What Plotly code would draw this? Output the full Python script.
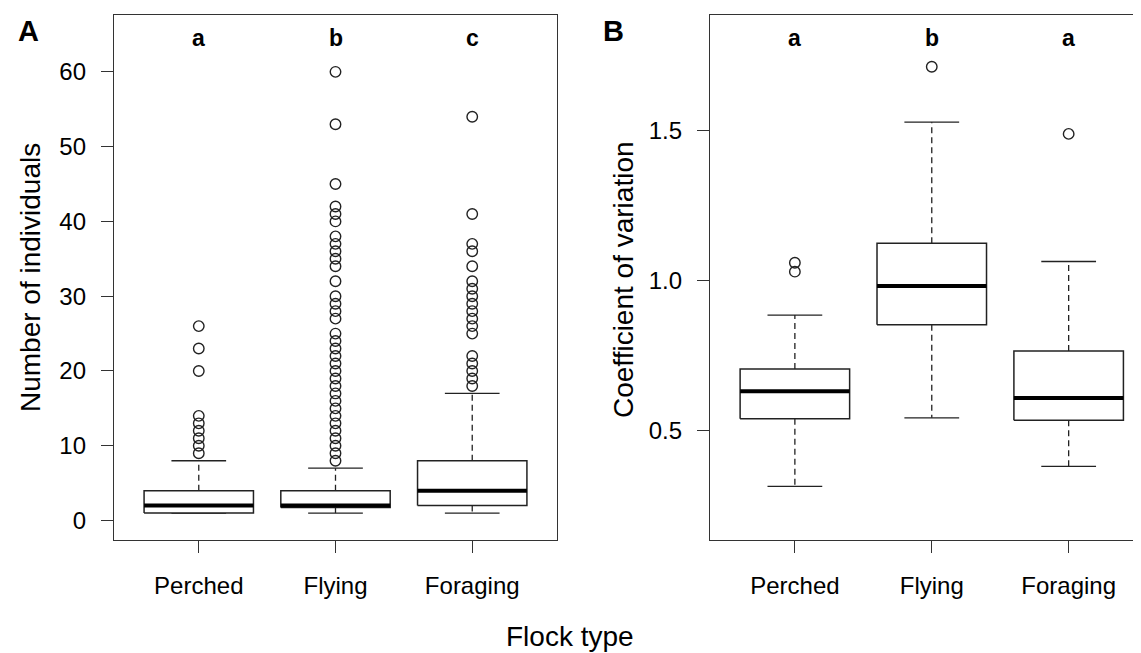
import plotly.graph_objects as go

# ---------------- data ----------------
categories = ["Perched", "Flying", "Foraging"]
positions = [1, 2, 3]

# Panel A: number of individuals
a_q1 = [1, 1.75, 2]
a_median = [2, 2, 4]
a_q3 = [4, 4, 8]
a_low = [1, 1, 1]
a_high = [8, 7, 17]
a_out_perched = [9, 10, 11, 12, 13, 14, 20, 23, 26]
a_out_flying = [8, 9, 10, 11, 12, 13, 14, 15, 16, 17, 18, 19, 20, 21, 22, 23, 24, 25,
                27, 28, 29, 30, 32, 34, 35, 36, 37, 38, 40, 41, 42, 45, 53, 60]
a_out_foraging = [18, 19, 20, 21, 22, 25, 26, 27, 28, 29, 30, 31, 32, 34, 36, 37, 41, 54]
a_letters = ["a", "b", "c"]
a_yticks = [0, 10, 20, 30, 40, 50, 60]

# Panel B: coefficient of variation
b_q1 = [0.539, 0.853, 0.534]
b_median = [0.631, 0.982, 0.608]
b_q3 = [0.705, 1.125, 0.765]
b_low = [0.313, 0.542, 0.380]
b_high = [0.885, 1.529, 1.064]
b_out_perched = [1.030, 1.060]
b_out_flying = [1.714]
b_out_foraging = [1.490]
b_letters = ["a", "b", "a"]
b_yticks = [0.5, 1.0, 1.5]
b_yticktext = ["0.5", "1.0", "1.5"]

# ---------------- layout helpers ----------------
PAGE_OFF = 8          # default body margin of the html page
W, H = 1125, 645      # figure size
FONT = "Liberation Sans"


def px(x):
    return (x - PAGE_OFF) / W


def py(y):
    return 1 - (y - PAGE_OFF) / H


BOX_HALF = 0.4
STAPLE_HALF = 0.2

fig = go.Figure()


def add_panel(xa, ya, q1, med, q3, low, high, outs):
    bx, by, mx, my, wx, wy, sx, sy = [], [], [], [], [], [], [], []
    for p, a, m, b, lo, hi in zip(positions, q1, med, q3, low, high):
        bx += [p - BOX_HALF, p + BOX_HALF, p + BOX_HALF, p - BOX_HALF, p - BOX_HALF, None]
        by += [a, a, b, b, a, None]
        mx += [p - BOX_HALF, p + BOX_HALF, None]
        my += [m, m, None]
        wx += [p, p, None, p, p, None]
        wy += [b, hi, None, a, lo, None]
        sx += [p - STAPLE_HALF, p + STAPLE_HALF, None, p - STAPLE_HALF, p + STAPLE_HALF, None]
        sy += [hi, hi, None, lo, lo, None]
    common = dict(xaxis=xa, yaxis=ya, showlegend=False, hoverinfo="skip")
    fig.add_trace(go.Scatter(x=wx, y=wy, mode="lines",
                             line=dict(color="#222", width=1.3, dash="6px,4px"), **common))
    fig.add_trace(go.Scatter(x=sx, y=sy, mode="lines",
                             line=dict(color="#222", width=1.3), **common))
    fig.add_trace(go.Scatter(x=bx, y=by, mode="lines", fill="toself", fillcolor="white",
                             line=dict(color="#222", width=1.5), **common))
    fig.add_trace(go.Scatter(x=mx, y=my, mode="lines",
                             line=dict(color="black", width=4), **common))
    for p, vals in zip(positions, outs):
        fig.add_trace(go.Scatter(x=[p] * len(vals), y=vals, mode="markers",
                                 marker=dict(symbol="circle-open", size=10.5,
                                             color="#222", line=dict(width=1.4)),
                                 **common))


add_panel("x", "y", a_q1, a_median, a_q3, a_low, a_high,
          [a_out_perched, a_out_flying, a_out_foraging])
add_panel("x2", "y2", b_q1, b_median, b_q3, b_low, b_high,
          [b_out_perched, b_out_flying, b_out_foraging])

tickfont = dict(family=FONT, size=24, color="black")
axis_common = dict(showgrid=False, zeroline=False, showline=True, linecolor="#333",
                   linewidth=1.3, ticks="outside", ticklen=12, tickwidth=1.3,
                   tickcolor="#333", tickfont=tickfont)

top_y, bot_y = 15, 540
fig.update_layout(
    width=W, height=H,
    margin=dict(l=0, r=0, t=0, b=0),
    paper_bgcolor="white", plot_bgcolor="white",
    xaxis=dict(domain=[px(114), px(557)], range=[0.38, 3.62], tickvals=positions,
               ticktext=categories, mirror=True, ticklabelstandoff=12, **axis_common),
    yaxis=dict(domain=[py(bot_y), py(top_y)], range=[-2.6, 67.6], tickvals=a_yticks,
               mirror=True, ticklabelstandoff=10, **axis_common),
    xaxis2=dict(domain=[px(710), 1.0], range=[0.38, 3.47], tickvals=positions,
                ticktext=categories, mirror=True, anchor="y2", ticklabelstandoff=12,
                **axis_common),
    yaxis2=dict(domain=[py(bot_y), py(top_y)], range=[0.134, 1.887], tickvals=b_yticks,
                ticktext=b_yticktext, mirror=False, anchor="x2", ticklabelstandoff=10,
                **axis_common),
)

annotations = []
for p, t in zip(positions, a_letters):
    annotations.append(dict(x=p, y=64.5, xref="x", yref="y", text="<b>%s</b>" % t,
                            xanchor="center", yanchor="middle", showarrow=False,
                            font=dict(family=FONT, size=23, color="black")))
for p, t in zip(positions, b_letters):
    annotations.append(dict(x=p, y=1.81, xref="x2", yref="y2", text="<b>%s</b>" % t,
                            xanchor="center", yanchor="middle", showarrow=False,
                            font=dict(family=FONT, size=23, color="black")))


def label(x, y, text, size, angle=0):
    return dict(x=px(x), y=py(y), xref="paper", yref="paper", text=text,
                xanchor="center", yanchor="middle", textangle=angle, showarrow=False,
                font=dict(family=FONT, size=size, color="black"))


annotations += [
    label(28, 31, "<b>A</b>", 29),
    label(613, 31, "<b>B</b>", 29),
    label(30, 278, "Number of individuals", 28, -90),
    label(623, 280, "Coefficient of variation", 28, -90),
    label(570, 636, "Flock type", 28),
]
fig.update_layout(annotations=annotations)

fig.write_html("out.html")
